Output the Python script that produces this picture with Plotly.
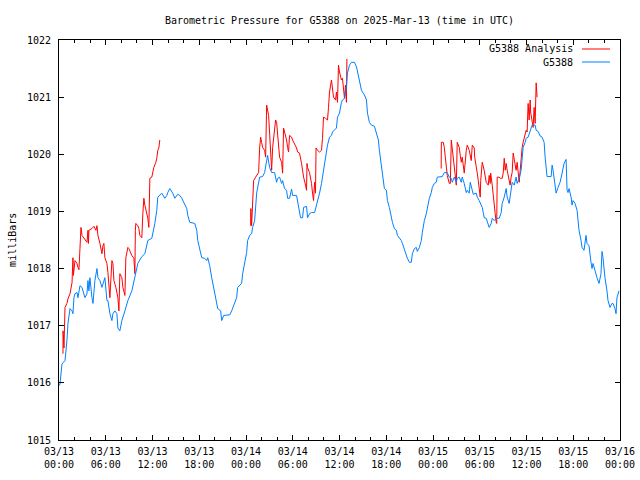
import pandas as pd
import plotly.graph_objects as go

START = "2025-03-13 00:00"

# G5388 station pressure (hours after start, millibars)
blue_hours = [0.0, 0.13, 0.38, 0.77, 1.02, 1.15, 1.41, 1.67, 1.79, 1.92, 2.05, 2.31, 2.43, 2.69, 2.95, 3.07,
              3.33, 3.59, 3.72, 3.84, 3.97, 4.23, 4.36, 4.61, 4.87, 5.0, 5.25, 5.51, 5.64, 5.89, 6.15, 6.28,
              6.53, 6.79, 6.92, 7.17, 7.43, 7.56, 7.81, 8.07, 8.46, 8.84, 9.35, 9.74, 10.12, 10.63, 11.02,
              11.4, 11.91, 12.3, 12.55, 12.68, 13.19, 13.58, 13.84, 13.96, 14.22, 14.6, 14.86, 15.24, 15.5,
              15.76, 15.89, 16.14, 16.4, 16.53, 16.78, 17.42, 17.68, 17.81, 18.06, 18.32, 18.7, 18.96, 19.09,
              19.34, 19.6, 19.73, 19.99, 20.24, 20.37, 20.75, 20.88, 21.14, 21.91, 22.16, 22.55, 22.8, 22.93,
              23.44, 23.57, 23.83, 24.08, 24.21, 24.47, 24.72, 24.85, 25.11, 25.37, 25.75, 26.13, 26.39,
              26.65, 26.77, 27.03, 27.29, 27.67, 27.93, 28.06, 28.31, 28.57, 28.7, 28.95, 29.21, 29.34, 29.59,
              29.85, 29.98, 30.49, 30.62, 30.87, 31.0, 31.26, 31.39, 31.77, 31.9, 32.15, 32.41, 32.8, 33.05,
              33.18, 33.44, 33.69, 33.82, 34.08, 34.33, 34.46, 34.72, 34.97, 35.1, 35.36, 35.61, 35.74, 36.0,
              36.25, 36.38, 36.64, 36.89, 37.02, 37.28, 37.54, 37.92, 38.18, 38.3, 38.56, 38.82, 38.94, 39.2,
              39.46, 39.59, 39.84, 40.1, 40.48, 40.74, 40.99, 41.12, 41.38, 41.51, 41.76, 42.02, 42.15, 42.4,
              42.66, 42.79, 43.04, 43.3, 43.43, 43.68, 43.94, 44.07, 44.32, 44.58, 44.71, 44.97, 45.22, 45.35,
              45.61, 45.86, 45.99, 46.25, 46.5, 46.63, 46.89, 47.14, 47.27, 47.53, 47.78, 47.91, 48.17, 48.42,
              48.55, 49.19, 49.45, 49.83, 50.09, 50.35, 50.47, 50.73, 50.99, 51.11, 51.37, 51.63, 51.75, 52.01,
              52.27, 52.4, 52.65, 52.78, 53.04, 53.16, 53.55, 53.68, 53.93, 54.06, 54.32, 54.45, 54.57, 54.83,
              54.96, 55.21, 55.47, 55.6, 55.86, 56.11, 56.5, 56.75, 56.88, 57.14, 57.39, 57.52, 57.78, 58.03,
              58.16, 58.42, 58.67, 58.8, 59.06, 59.31, 59.44, 59.57, 59.83, 59.95, 60.21, 60.47, 60.6, 60.72,
              61.11, 61.24, 61.49, 61.75, 62.0, 62.26, 62.39, 62.52, 62.64, 63.16, 63.29, 63.41, 63.67, 63.8,
              64.05, 64.31, 64.57, 64.69, 64.82, 65.08, 65.15, 65.21, 65.33, 65.46, 65.72, 65.85, 65.97, 66.23,
              66.49, 66.74, 67.0, 67.13, 67.38, 67.64, 67.77, 68.02, 68.28, 68.41, 68.54, 68.92, 69.05, 69.31,
              69.56, 69.69, 69.82, 70.07, 70.2, 70.33, 70.46, 70.72, 70.97, 71.1, 71.36, 71.49, 71.61, 71.87]
blue_mb = [1015.95, 1015.98, 1016.33, 1016.39, 1016.74, 1017.04, 1017.30, 1017.26, 1017.21, 1017.49, 1017.56,
           1017.58, 1017.49, 1017.70, 1017.67, 1017.61, 1017.49, 1017.56, 1017.79, 1017.61, 1017.84, 1017.49,
           1017.39, 1017.79, 1018.00, 1017.84, 1017.79, 1017.67, 1017.74, 1017.84, 1017.44, 1017.44, 1017.21,
           1017.09, 1017.21, 1017.26, 1017.21, 1016.96, 1016.91, 1017.09, 1017.26, 1017.44, 1017.61, 1017.84,
           1018.09, 1018.21, 1018.26, 1018.49, 1018.53, 1018.79, 1019.02, 1019.25, 1019.32, 1019.23, 1019.28,
           1019.33, 1019.40, 1019.32, 1019.23, 1019.30, 1019.28, 1019.23, 1019.19, 1019.14, 1019.05, 1018.93,
           1018.81, 1018.79, 1018.67, 1018.49, 1018.32, 1018.19, 1018.18, 1018.14, 1018.19, 1018.05, 1017.84,
           1017.74, 1017.56, 1017.35, 1017.30, 1017.26, 1017.09, 1017.18, 1017.19, 1017.26, 1017.40, 1017.49,
           1017.67, 1017.74, 1017.91, 1018.09, 1018.28, 1018.49, 1018.58, 1018.61, 1018.72, 1018.84, 1019.32,
           1019.60, 1019.61, 1019.68, 1019.86, 1019.98, 1019.77, 1019.68, 1019.68, 1019.51, 1019.58, 1019.60,
           1019.49, 1019.54, 1019.40, 1019.37, 1019.23, 1019.23, 1019.39, 1019.28, 1019.28, 1019.19, 1019.02,
           1018.89, 1018.89, 1019.07, 1019.09, 1018.89, 1018.96, 1018.98, 1018.98, 1019.11, 1019.16, 1019.32,
           1019.49, 1019.60, 1019.84, 1020.02, 1020.16, 1020.30, 1020.33, 1020.39, 1020.42, 1020.46, 1020.65,
           1020.72, 1020.91, 1020.95, 1020.98, 1021.18, 1021.42, 1021.56, 1021.61, 1021.61, 1021.53, 1021.44,
           1021.30, 1021.12, 1021.09, 1021.04, 1020.95, 1020.72, 1020.56, 1020.51, 1020.49, 1020.37, 1020.25,
           1020.07, 1019.77, 1019.60, 1019.40, 1019.37, 1019.19, 1019.07, 1018.89, 1018.81, 1018.70, 1018.67,
           1018.58, 1018.53, 1018.49, 1018.44, 1018.32, 1018.23, 1018.18, 1018.11, 1018.11, 1018.26, 1018.35,
           1018.37, 1018.30, 1018.37, 1018.49, 1018.63, 1018.84, 1018.96, 1019.07, 1019.23, 1019.33, 1019.42,
           1019.49, 1019.51, 1019.60, 1019.61, 1019.68, 1019.68, 1019.60, 1019.58, 1019.51, 1019.60, 1019.51,
           1019.58, 1019.60, 1019.51, 1019.60, 1019.49, 1019.33, 1019.37, 1019.32, 1019.51, 1019.37, 1019.30,
           1019.32, 1019.25, 1019.19, 1019.14, 1019.07, 1018.98, 1018.89, 1018.88, 1018.81, 1018.72, 1018.79,
           1018.88, 1018.84, 1018.88, 1018.88, 1018.98, 1019.14, 1019.25, 1019.40, 1019.25, 1019.14, 1019.37,
           1019.51, 1019.46, 1019.60, 1019.49, 1019.58, 1019.72, 1019.95, 1020.12, 1020.21, 1020.28, 1020.30,
           1020.39, 1020.47, 1020.51, 1020.51, 1020.42, 1020.40, 1020.32, 1020.30, 1020.21, 1019.95, 1019.77,
           1019.61, 1019.61, 1019.81, 1019.72, 1019.42, 1019.32, 1019.42, 1019.51, 1019.67, 1019.77, 1019.84,
           1019.91, 1019.72, 1019.37, 1019.33, 1019.40, 1019.25, 1019.11, 1019.19, 1019.14, 1019.02, 1018.67,
           1018.49, 1018.37, 1018.32, 1018.58, 1018.44, 1018.40, 1018.11, 1018.00, 1018.09, 1017.88, 1017.84,
           1017.74, 1017.91, 1018.30, 1018.19, 1017.84, 1017.74, 1017.61, 1017.44, 1017.32, 1017.39, 1017.39,
           1017.30, 1017.21, 1017.49, 1017.61]

# G5388 Analysis, three separate runs
red_a_hours = [0.51, 0.52, 0.64, 0.77, 1.02, 1.15, 1.41, 1.67, 1.79, 1.85, 2.05, 2.31, 2.43, 2.56, 2.69, 2.82,
               2.95, 3.2, 3.59, 3.72, 3.78, 3.84, 3.97, 4.23, 4.48, 4.74, 4.87, 5.0, 5.25, 5.51, 5.64, 5.76,
               5.89, 6.15, 6.28, 6.41, 6.53, 6.79, 6.92, 7.05, 7.3, 7.56, 7.69, 7.81, 8.07, 8.2, 8.46, 8.58,
               8.84, 8.97, 9.22, 9.35, 9.61, 9.74, 9.8, 9.86, 10.12, 10.25, 10.38, 10.63, 10.76, 10.89, 11.02,
               11.15, 11.4, 11.53, 11.66, 11.91, 12.04, 12.17, 12.43, 12.55, 12.68, 12.81, 12.94]
red_a_mb = [1016.51, 1016.91, 1016.61, 1017.32, 1017.39, 1017.47, 1017.56, 1017.75, 1018.19, 1017.88, 1018.14,
            1018.09, 1018.02, 1017.98, 1018.35, 1018.72, 1018.58, 1018.54, 1018.46, 1018.67, 1018.44, 1018.67,
            1018.68, 1018.70, 1018.74, 1018.67, 1018.75, 1018.58, 1018.44, 1018.26, 1018.40, 1018.44, 1018.19,
            1018.09, 1017.93, 1017.75, 1017.49, 1018.14, 1018.09, 1017.79, 1017.67, 1017.49, 1017.26, 1017.91,
            1017.84, 1017.67, 1017.53, 1018.19, 1018.37, 1018.35, 1018.26, 1018.23, 1018.18, 1017.91, 1018.67,
            1018.79, 1018.75, 1018.70, 1018.58, 1018.54, 1018.96, 1019.23, 1019.11, 1019.02, 1018.88, 1018.72,
            1019.58, 1019.60, 1019.68, 1019.77, 1019.86, 1019.93, 1020.07, 1020.11, 1020.25]

red_b_hours = [24.6, 24.62, 24.72, 24.85, 24.98, 25.24, 25.49, 25.62, 25.75, 25.88, 26.0, 26.13, 26.39, 26.52,
               26.65, 26.77, 26.9, 27.03, 27.16, 27.29, 27.42, 27.54, 27.8, 27.93, 28.06, 28.19, 28.31, 28.57,
               28.7, 28.82, 28.95, 29.21, 29.34, 29.46, 29.59, 29.85, 29.98, 30.23, 30.49, 30.62, 30.87, 31.13,
               31.26, 31.39, 31.64, 31.77, 31.83, 31.9, 32.15, 32.41, 32.54, 32.67, 32.8, 32.92, 32.99, 33.18,
               33.44, 33.69, 33.82, 33.95, 34.2, 34.46, 34.59, 34.72, 34.97, 35.1, 35.23, 35.49, 35.61, 35.74,
               35.87, 36.0, 36.25, 36.38, 36.51, 36.64, 36.77, 36.89, 36.95]
red_b_mb = [1018.75, 1019.05, 1018.75, 1019.37, 1019.54, 1019.60, 1019.67, 1019.68, 1020.11, 1020.30, 1020.21,
            1020.12, 1020.07, 1019.95, 1020.86, 1020.77, 1020.68, 1020.37, 1020.07, 1019.72, 1020.12, 1020.25,
            1020.60, 1020.56, 1020.33, 1020.07, 1019.95, 1019.86, 1019.67, 1020.46, 1020.39, 1020.25, 1020.12,
            1020.04, 1020.33, 1020.30, 1020.25, 1020.19, 1020.11, 1020.04, 1020.02, 1019.84, 1019.72, 1019.60,
            1019.46, 1019.37, 1019.84, 1019.77, 1019.68, 1019.49, 1019.32, 1019.19, 1019.51, 1019.32, 1020.11,
            1020.07, 1020.04, 1020.07, 1020.28, 1020.65, 1020.63, 1020.60, 1020.82, 1021.09, 1021.30, 1021.16,
            1021.00, 1020.95, 1021.09, 1020.91, 1021.56, 1021.44, 1021.30, 1021.33, 1021.09, 1020.98, 1021.21,
            1020.91, 1021.67]

red_c_hours = [49.05, 49.07, 49.32, 49.45, 49.58, 49.71, 49.83, 50.09, 50.22, 50.35, 50.47, 50.73, 50.86, 50.99,
               51.11, 51.37, 51.5, 51.63, 51.75, 51.88, 52.01, 52.27, 52.4, 52.65, 52.78, 52.91, 53.04, 53.29,
               53.35, 53.55, 53.68, 53.81, 53.93, 54.06, 54.12, 54.19, 54.32, 54.57, 54.7, 54.83, 55.09, 55.21,
               55.34, 55.4, 55.6, 55.73, 55.86, 55.98, 56.11, 56.18, 56.24, 56.5, 56.62, 56.88, 57.01, 57.14,
               57.27, 57.39, 57.52, 57.65, 57.78, 57.9, 58.03, 58.16, 58.29, 58.42, 58.55, 58.67, 58.8, 58.93,
               59.06, 59.19, 59.31, 59.44, 59.57, 59.7, 59.83, 59.95, 60.08, 60.21, 60.34, 60.47, 60.53, 60.72,
               60.85, 60.98, 61.11, 61.24, 61.36]
red_c_mb = [1019.75, 1020.21, 1020.21, 1020.12, 1019.95, 1019.81, 1019.63, 1019.49, 1019.49, 1020.25, 1020.12,
            1019.77, 1019.68, 1019.46, 1020.21, 1020.12, 1019.98, 1019.86, 1019.95, 1019.77, 1019.67, 1020.07,
            1020.16, 1020.07, 1019.95, 1019.89, 1020.16, 1020.11, 1019.95, 1019.81, 1019.67, 1019.54, 1019.37,
            1019.25, 1019.54, 1019.72, 1019.86, 1019.72, 1019.60, 1019.51, 1019.46, 1019.63, 1019.49, 1019.67,
            1019.46, 1019.25, 1019.11, 1018.96, 1018.81, 1018.79, 1019.60, 1019.60, 1019.58, 1019.58, 1019.67,
            1019.93, 1019.72, 1019.84, 1019.72, 1019.63, 1019.58, 1019.46, 1019.60, 1019.68, 1020.02, 1019.93,
            1019.81, 1019.72, 1019.86, 1019.72, 1019.51, 1019.72, 1020.02, 1020.12, 1020.21, 1020.28, 1020.33,
            1020.42, 1020.39, 1020.89, 1020.60, 1020.95, 1020.74, 1020.54, 1020.47, 1020.82, 1020.54, 1021.25,
            1021.00]

tick_hours = [0, 6, 12, 18, 24, 30, 36, 42, 48, 54, 60, 66, 72]
tick_labels = ["03/13<br>00:00", "03/13<br>06:00", "03/13<br>12:00", "03/13<br>18:00",
               "03/14<br>00:00", "03/14<br>06:00", "03/14<br>12:00", "03/14<br>18:00",
               "03/15<br>00:00", "03/15<br>06:00", "03/15<br>12:00", "03/15<br>18:00",
               "03/16<br>00:00"]
y_ticks = [1015, 1016, 1017, 1018, 1019, 1020, 1021, 1022]

RED = "#ff0000"
BLUE = "#0080ff"
FONT = "DejaVu Sans Mono"

t0 = pd.Timestamp(START)


def to_time(hours):
    return [t0 + pd.Timedelta(hours=h) for h in hours]


fig = go.Figure()
for hrs, vals in [(red_a_hours, red_a_mb), (red_b_hours, red_b_mb), (red_c_hours, red_c_mb)]:
    fig.add_trace(go.Scatter(x=to_time(hrs), y=vals, mode="lines",
                             line=dict(color=RED, width=1), showlegend=False,
                             name="G5388 Analysis"))
fig.add_trace(go.Scatter(x=to_time(blue_hours), y=blue_mb, mode="lines",
                         line=dict(color=BLUE, width=1), showlegend=False, name="G5388"))

fig.update_layout(
    width=640, height=480,
    margin=dict(l=59, r=20, t=40, b=40),
    paper_bgcolor="white", plot_bgcolor="white",
    font=dict(family=FONT, size=10, color="black"),
    title=dict(text="Barometric Pressure for G5388 on 2025-Mar-13 (time in UTC)",
               x=0.5, xref="paper", xanchor="center", y=1 - 20 / 480, yanchor="middle",
               font=dict(family=FONT, size=10, color="black")),
)

fig.update_xaxes(
    range=[t0, t0 + pd.Timedelta(hours=72)],
    tickmode="array", tickvals=to_time(tick_hours), ticktext=tick_labels,
    ticks="inside", ticklen=5, tickcolor="black", tickwidth=1,
    showline=True, linecolor="black", linewidth=1, mirror="allticks",
    showgrid=False, zeroline=False, automargin=False, ticklabelstandoff=2,
    minor=dict(ticks="inside", ticklen=3, tickcolor="black", dtick=2 * 3600 * 1000,
               tick0=t0, showgrid=False),
    tickfont=dict(family=FONT, size=10, color="black"),
)
fig.update_yaxes(
    range=[1015, 1022], tickmode="array", tickvals=y_ticks, ticktext=[str(v) for v in y_ticks],
    ticks="inside", ticklen=5, tickcolor="black", tickwidth=1,
    showline=True, linecolor="black", linewidth=1, mirror="allticks",
    showgrid=False, zeroline=False, ticklabelstandoff=5, automargin=False,
    tickfont=dict(family=FONT, size=10, color="black"),
)

fig.add_annotation(text="milliBars", textangle=-90, xref="paper", yref="paper",
                   x=-0.084, y=0.5, xanchor="center", yanchor="middle", showarrow=False,
                   font=dict(family=FONT, size=10, color="black"))

# gnuplot-style key: text then line sample, top-right
for i, (label, color) in enumerate([("G5388 Analysis", RED), ("G5388", BLUE)]):
    yk = 1 - (49 + 13 * i - 40) / 400
    fig.add_annotation(text=label, xref="paper", yref="paper", x=(575 - 59) / 561, y=yk,
                       xanchor="right", yanchor="middle", showarrow=False,
                       font=dict(family=FONT, size=10, color="black"))
    fig.add_shape(type="line", xref="paper", yref="paper",
                  x0=(582 - 59) / 561, x1=(610 - 59) / 561, y0=yk, y1=yk,
                  line=dict(color=color, width=1))

fig.write_html("out.html", config={"displayModeBar": False},
               post_script="document.body.style.margin='0';document.body.style.overflow='hidden';")
